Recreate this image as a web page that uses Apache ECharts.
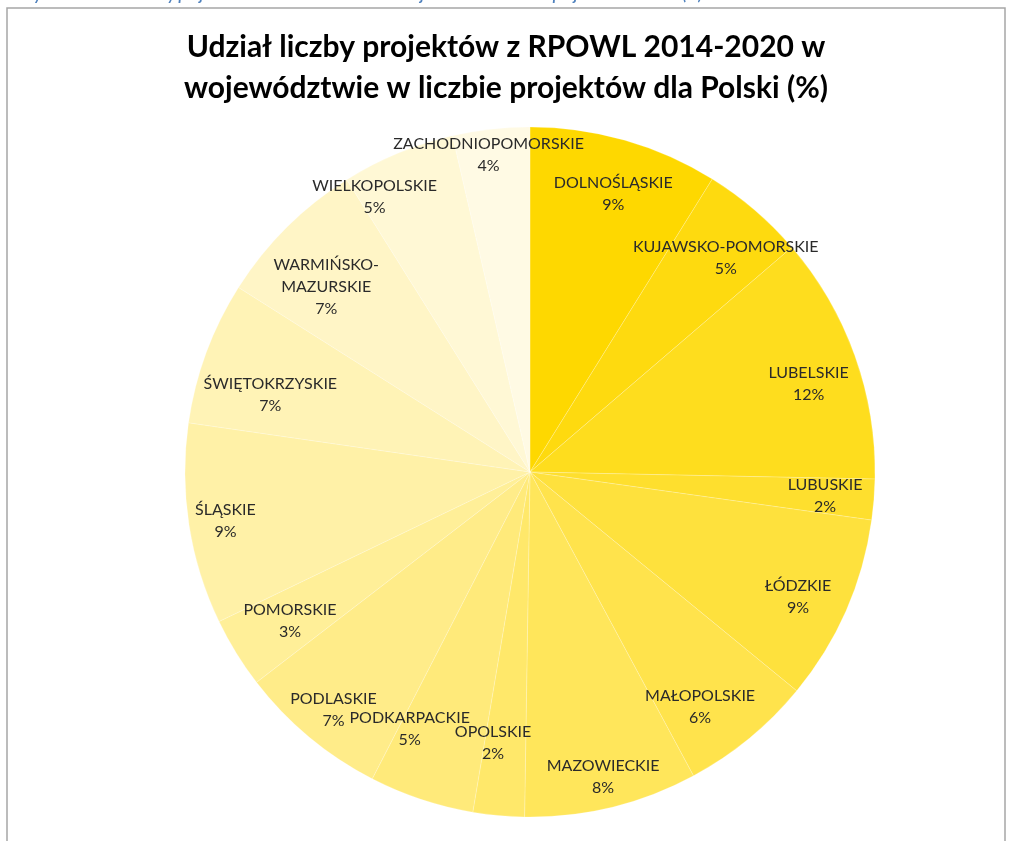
<!DOCTYPE html>
<html>
<head>
<meta charset="utf-8">
<script src="https://cdn.jsdelivr.net/npm/echarts@6/dist/echarts.min.js"></script>
<style>
  html, body { margin: 0; padding: 0; background: #ffffff; }
  #chart { width: 1012px; height: 841px; }
</style>
</head>
<body>
<div id="chart"></div>
<script>
// voivodeships, clockwise from 12 o'clock
var regions = [
    'DOLNOŚLĄSKIE', 'KUJAWSKO-POMORSKIE', 'LUBELSKIE', 'LUBUSKIE',
    'ŁÓDZKIE', 'MAŁOPOLSKIE', 'MAZOWIECKIE', 'OPOLSKIE',
    'PODKARPACKIE', 'PODLASKIE', 'POMORSKIE', 'ŚLĄSKIE',
    'ŚWIĘTOKRZYSKIE', 'WARMIŃSKO-\nMAZURSKIE', 'WIELKOPOLSKIE', 'ZACHODNIOPOMORSKIE'
];
// share of projects (%)
var shares = [8.85, 4.85, 11.6, 1.9, 8.7, 6.2, 8.1, 2.4, 4.9, 7.0, 3.3, 9.4, 6.7, 7.1, 5.3, 3.6];
// gold -> cream, one shade per slice
var shades = [
    '#FED800', '#FEDA0F', '#FEDD1E', '#FEDF2E', '#FEE13D', '#FFE34C', '#FFE65B', '#FFE86A',
    '#FFEA7A', '#FFEC89', '#FFEF98', '#FFF1A7', '#FFF3B6', '#FFF5C6', '#FFF8D5', '#FFFAE4'
];

// small label nudges (Excel "best fit" moved some of them)
var labelNudge = {
    'KUJAWSKO-POMORSKIE': [3, 10],
    'LUBELSKIE': [0, 12],
    'ŁÓDZKIE': [-3, 6],
    'MAŁOPOLSKIE': [-18, 6],
    'MAZOWIECKIE': [3, 17],
    'OPOLSKIE': [-10, -24],
    'PODKARPACKIE': [-27, -24],
    'PODLASKIE': [-7, 10],
    'POMORSKIE': [12, -6],
    'ŚLĄSKIE': [-12, 4],
    'ŚWIĘTOKRZYSKIE': [18, 25],
    'WARMIŃSKO-\nMAZURSKIE': [5, 25],
    'WIELKOPOLSKIE': [-42, -2],
    'ZACHODNIOPOMORSKIE': [-8, -23],
    'DOLNOŚLĄSKIE': [2, 6]
};

var pieData = regions.map(function (name, i) {
    return { name: name, value: shares[i], itemStyle: { color: shades[i] } };
});
var labelData = regions.map(function (name, i) {
    return { name: name, value: shares[i], label: { offset: labelNudge[name] || [0, 0] } };
});

var chart = echarts.init(document.getElementById('chart'));

chart.setOption({
    backgroundColor: '#ffffff',
    animation: false,
    title: {
        text: 'Udział liczby projektów z RPOWL 2014-2020 w\nwojewództwie w liczbie projektów dla Polski (%)',
        left: 'center',
        top: 22,
        textStyle: {
            fontFamily: 'Lato',
            fontWeight: 'bold',
            fontSize: 30,
            lineHeight: 41,
            color: '#000000'
        }
    },
    graphic: [
        {
            type: 'rect',
            shape: { x: 7, y: 8, width: 998, height: 900 },
            style: { fill: 'none', stroke: '#a6a6a6', lineWidth: 1.5 },
            silent: true
        },
        {
            // caption above the frame, cut off by the top edge
            type: 'text',
            left: 20,
            top: -12,
            style: {
                text: 'Wykres 12. Udział liczby projektów z RPOWL 2014-2020 w województwie w liczbie projektów dla Polski (%)',
                font: 'italic bold 15px Lato',
                fill: '#4f81bd'
            },
            silent: true
        }
    ],
    series: [
        {
            type: 'pie',
            center: [530, 472],
            radius: 345,
            startAngle: 90,
            clockwise: true,
            silent: true,
            label: { show: false },
            labelLine: { show: false },
            itemStyle: { borderColor: 'rgba(255,255,255,0.35)', borderWidth: 0.6 },
            data: pieData
        },
        {
            // transparent ring only used to place the labels at ~0.85 R
            type: 'pie',
            center: [530, 472],
            radius: [241, 345],
            startAngle: 90,
            clockwise: true,
            silent: true,
            itemStyle: { color: 'rgba(0,0,0,0)' },
            labelLayout: { hideOverlap: false },
            label: {
                show: true,
                position: 'inside',
                fontFamily: 'Lato',
                fontSize: 16,
                lineHeight: 22,
                color: '#2a2a2a',
                formatter: function (p) {
                    return p.name + '\n' + Math.round(p.value) + '%';
                }
            },
            labelLine: { show: false },
            data: labelData
        }
    ]
});
</script>
</body>
</html>
